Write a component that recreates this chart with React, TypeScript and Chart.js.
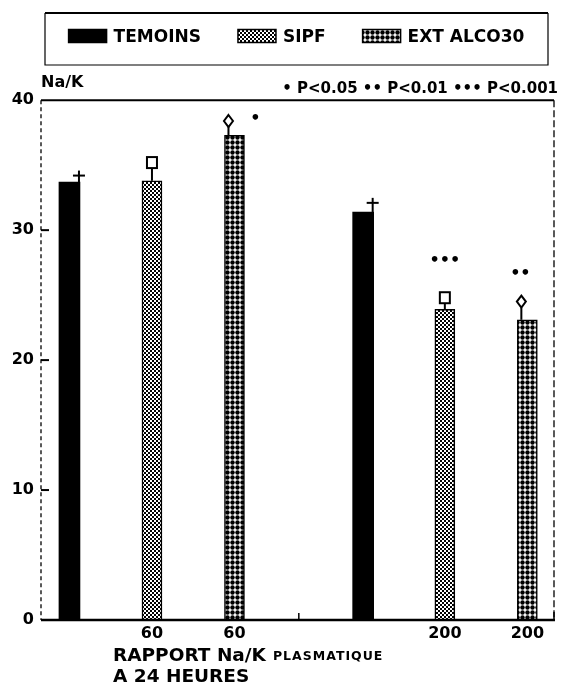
import React, { useEffect, useRef } from 'react';
import { Chart, registerables } from 'chart.js';

Chart.register(...registerables);

// ---------- data ----------
const groups = ['60', '200'];
const seriesNames = ['TEMOINS', 'SIPF', 'EXT ALCO30'];
const temoinsValues = [33.7, 31.4];
const sipfValues = [33.8, 23.9];
const extValues = [37.3, 23.1];
// upper end of the error bar (where the symbol sits)
const temoinsErrTop = [34.2, 32.1];
const sipfErrTop = [35.2, 24.8];
const extErrTop = [38.4, 24.5];
// significance marks and their level
const temoinsSig = ['', ''];
const sipfSig = ['', '•••'];
const extSig = ['•', '••'];
const temoinsSigY = [0, 0];
const sipfSigY = [0, 27.6];
const extSigY = [38.6, 26.6];
// x positions of the bars on a linear axis
const temoinsX = [1, 4.56];
const sipfX = [2, 5.55];
const extX = [3, 6.55];
const yTicks = [0, 10, 20, 30, 40];
const xMin = 0.655;
const xMax = 6.873;
const pLegend = '• P<0.05 •• P<0.01 ••• P<0.001';
const yTitle = 'Na/K';
const xTitleMain = 'RAPPORT Na/K';
const xTitleSmall = 'PLASMATIQUE';
const xTitleLine2 = 'A 24 HEURES';

// ---------- styles ----------
const FONT = 'DejaVu Sans';
const markerKinds = ['plus', 'square', 'diamond'];
const sigDx = [[0, 0], [0, 0], [21, -7]];

function makePattern(kind: string): CanvasPattern | string {
  const c = document.createElement('canvas');
  const ctx = c.getContext('2d');
  if (!ctx) return '#888';
  if (kind === 'sipf') {
    c.width = 4; c.height = 4;
    ctx.fillStyle = '#fff'; ctx.fillRect(0, 0, 4, 4);
    ctx.fillStyle = '#000'; ctx.fillRect(0, 0, 2, 2); ctx.fillRect(2, 2, 2, 2);
  } else {
    c.width = 5; c.height = 5;
    ctx.fillStyle = '#fff'; ctx.fillRect(0, 0, 5, 5);
    ctx.fillStyle = '#000';
    ctx.beginPath(); ctx.arc(2.5, 2.5, 2.2, 0, Math.PI * 2); ctx.fill();
  }
  return ctx.createPattern(c, 'repeat') || '#888';
}

const errTops = [temoinsErrTop, sipfErrTop, extErrTop];
const sigs = [temoinsSig, sipfSig, extSig];
const sigYs = [temoinsSigY, sipfSigY, extSigY];

const decorPlugin = {
  id: 'decor',
  afterDatasetsDraw(chart: any) {
    const ctx = chart.ctx as CanvasRenderingContext2D;
    const ys = chart.scales.y;
    const xs = chart.scales.x;
    const { left, right, top, bottom } = chart.chartArea;
    ctx.save();
    ctx.strokeStyle = '#000';
    ctx.fillStyle = '#000';

    // frame
    ctx.lineWidth = 2;
    ctx.beginPath(); ctx.moveTo(left, top); ctx.lineTo(right, top); ctx.stroke();
    ctx.lineWidth = 2.5;
    ctx.beginPath(); ctx.moveTo(left, bottom); ctx.lineTo(right + 1, bottom); ctx.stroke();
    ctx.lineWidth = 1.3;
    ctx.setLineDash([4, 3]);
    ctx.beginPath(); ctx.moveTo(left, top); ctx.lineTo(left, bottom); ctx.stroke();
    ctx.setLineDash([7, 3]);
    ctx.beginPath(); ctx.moveTo(right, top); ctx.lineTo(right, bottom); ctx.stroke();
    ctx.setLineDash([]);

    // inward y ticks
    ctx.lineWidth = 2;
    yTicks.forEach((v) => {
      if (v === yTicks[0] || v === yTicks[yTicks.length - 1]) return;
      const py = ys.getPixelForValue(v);
      ctx.beginPath(); ctx.moveTo(left, py); ctx.lineTo(left + 8, py); ctx.stroke();
    });
    // separator tick between the two groups, and right end tick
    const sepX = xs.getPixelForValue((extX[0] + temoinsX[1]) / 2);
    ctx.lineWidth = 1.5;
    ctx.beginPath(); ctx.moveTo(sepX, bottom - 7); ctx.lineTo(sepX, bottom); ctx.stroke();
    ctx.beginPath(); ctx.moveTo(right, bottom - 8); ctx.lineTo(right, bottom); ctx.stroke();

    // error markers + significance
    chart.data.datasets.forEach((ds: any, d: number) => {
      const meta = chart.getDatasetMeta(d);
      meta.data.forEach((el: any, i: number) => {
        const p = el.getProps(['x', 'y', 'width'], true);
        const ey = ys.getPixelForValue(errTops[d][i]);
        const kind = markerKinds[d];
        ctx.lineWidth = 2;
        ctx.strokeStyle = '#000';
        if (kind === 'plus') {
          const ax = p.x + p.width / 2 - 1;
          ctx.beginPath(); ctx.moveTo(ax, p.y); ctx.lineTo(ax, ey - 5); ctx.stroke();
          ctx.beginPath(); ctx.moveTo(ax - 6, ey); ctx.lineTo(ax + 6, ey); ctx.stroke();
        } else if (kind === 'square') {
          const ax = p.x;
          ctx.fillStyle = '#fff';
          ctx.fillRect(ax - 5, ey - 5.5, 10, 11);
          ctx.strokeRect(ax - 5, ey - 5.5, 10, 11);
          ctx.beginPath(); ctx.moveTo(ax, ey + 5.5); ctx.lineTo(ax, p.y); ctx.stroke();
        } else {
          const ax = p.x - 6;
          ctx.fillStyle = '#fff';
          ctx.beginPath();
          ctx.moveTo(ax, ey - 6); ctx.lineTo(ax + 4.5, ey); ctx.lineTo(ax, ey + 6); ctx.lineTo(ax - 4.5, ey);
          ctx.closePath(); ctx.fill(); ctx.stroke();
          ctx.beginPath(); ctx.moveTo(ax, ey + 6); ctx.lineTo(ax, p.y); ctx.stroke();
        }
        const s = sigs[d][i];
        if (s) {
          ctx.fillStyle = '#000';
          ctx.font = `bold 16px "${FONT}"`;
          ctx.textAlign = 'center';
          ctx.textBaseline = 'middle';
          ctx.fillText(s, p.x + sigDx[d][i], ys.getPixelForValue(sigYs[d][i]));
        }
      });
    });
    ctx.restore();
  },
  afterDraw(chart: any) {
    const ctx = chart.ctx as CanvasRenderingContext2D;
    const { left, right, top, bottom } = chart.chartArea;
    ctx.save();
    ctx.fillStyle = '#000';
    ctx.strokeStyle = '#000';

    // p-value legend
    ctx.font = `bold 15px "${FONT}"`;
    ctx.textAlign = 'right';
    ctx.textBaseline = 'middle';
    ctx.fillText(pLegend, right + 4, top - 11);

    // x axis title
    ctx.textAlign = 'left';
    ctx.textBaseline = 'alphabetic';
    ctx.font = `bold 18.5px "${FONT}"`;
    const tx = left + 72;
    ctx.fillText(xTitleMain, tx, bottom + 41);
    const w = ctx.measureText(xTitleMain).width;
    ctx.font = `bold 12.5px "${FONT}"`;
    (ctx as any).letterSpacing = '1px';
    ctx.fillText(xTitleSmall, tx + w + 7, bottom + 40);
    (ctx as any).letterSpacing = '0px';
    ctx.font = `bold 18.5px "${FONT}"`;
    ctx.fillText(xTitleLine2, tx, bottom + 62);

    // custom legend box
    const bx0 = 45, bx1 = 548, by0 = 13, by1 = 65;
    ctx.lineWidth = 2;
    ctx.beginPath(); ctx.moveTo(bx0, by0); ctx.lineTo(bx1, by0); ctx.stroke();
    ctx.lineWidth = 1.2;
    ctx.beginPath(); ctx.moveTo(bx1, by0); ctx.lineTo(bx1, by1); ctx.lineTo(bx0, by1); ctx.lineTo(bx0, by0); ctx.stroke();
    ctx.font = `bold 17px "${FONT}"`;
    const swW = 38, swH = 13, gap = 7, spacing = 37;
    const items = chart.data.datasets.map((ds: any) => ({
      label: ds.label as string,
      fill: ds.backgroundColor,
      w: ctx.measureText(ds.label).width,
    }));
    const total = items.reduce((a: number, it: any) => a + swW + gap + it.w, 0) + spacing * (items.length - 1);
    let cx = (bx0 + bx1) / 2 - total / 2;
    const cy = (by0 + by1) / 2 - 3;
    items.forEach((it: any) => {
      ctx.fillStyle = it.fill;
      ctx.fillRect(cx, cy - swH / 2, swW, swH);
      ctx.lineWidth = 1.5;
      ctx.strokeRect(cx, cy - swH / 2, swW, swH);
      ctx.fillStyle = '#000';
      ctx.textBaseline = 'middle';
      ctx.fillText(it.label, cx + swW + gap, cy + 2);
      cx += swW + gap + it.w + spacing;
    });
    ctx.restore();
  },
};

export default function App() {
  const ref = useRef<HTMLCanvasElement | null>(null);
  useEffect(() => {
    if (!ref.current) return;
    const sipfPattern = makePattern('sipf');
    const extPattern = makePattern('ext');
    const tickValues: number[] = [];
    const tickLabels: string[] = [];
    groups.forEach((g, i) => {
      tickValues.push(sipfX[i], extX[i]);
      tickLabels.push(g, g);
    });
    const tickFont = { family: FONT, weight: 'bold' as const, size: 16 };
    const chart = new Chart(ref.current, {
      type: 'bar',
      data: {
        datasets: [
          {
            label: seriesNames[0],
            data: temoinsX.map((x, i) => ({ x, y: temoinsValues[i] })),
            backgroundColor: '#000',
            borderColor: '#000',
            borderWidth: 0,
            barThickness: 21,
            grouped: false,
          } as any,
          {
            label: seriesNames[1],
            data: sipfX.map((x, i) => ({ x, y: sipfValues[i] })),
            backgroundColor: sipfPattern,
            borderColor: '#000',
            borderWidth: 1.5,
            barThickness: 20,
            grouped: false,
          } as any,
          {
            label: seriesNames[2],
            data: extX.map((x, i) => ({ x, y: extValues[i] })),
            backgroundColor: extPattern,
            borderColor: '#000',
            borderWidth: 1.5,
            barThickness: 20,
            grouped: false,
          } as any,
        ],
      },
      options: {
        animation: false,
        responsive: false,
        devicePixelRatio: 1,
        layout: { padding: { top: 64, right: 19, bottom: 0, left: 0 } },
        plugins: {
          legend: { display: false },
          tooltip: { enabled: false },
          title: {
            display: true,
            text: yTitle,
            align: 'start',
            fullSize: false,
            color: '#000',
            font: { family: FONT, weight: 'bold', size: 16, lineHeight: 1.2 },
            padding: { top: 9, bottom: 8 },
          },
        },
        scales: {
          x: {
            type: 'linear',
            min: xMin,
            max: xMax,
            offset: false,
            grid: { display: false, drawTicks: false, offset: false },
            border: { display: false },
            afterBuildTicks: (s: any) => {
              s.ticks = tickValues.map((v) => ({ value: v }));
            },
            afterFit: (s: any) => {
              s.height = 70;
            },
            ticks: {
              autoSkip: false,
              maxRotation: 0,
              padding: 4,
              color: '#000',
              font: tickFont,
              callback: (_v: any, i: number) => tickLabels[i],
            },
          },
          y: {
            min: yTicks[0],
            max: yTicks[yTicks.length - 1],
            grid: { display: false, drawTicks: false },
            border: { display: false },
            afterFit: (s: any) => {
              s.width = 41;
            },
            ticks: {
              stepSize: 10,
              padding: 7,
              color: '#000',
              font: tickFont,
            },
          },
        },
      } as any,
      plugins: [decorPlugin],
    });
    return () => chart.destroy();
  }, []);
  return (
    <div style={{ position: 'absolute', left: 0, top: 0, width: 573, height: 690, background: '#fff' }}>
      <canvas ref={ref} width={573} height={690} style={{ width: 573, height: 690, display: 'block' }} />
    </div>
  );
}
